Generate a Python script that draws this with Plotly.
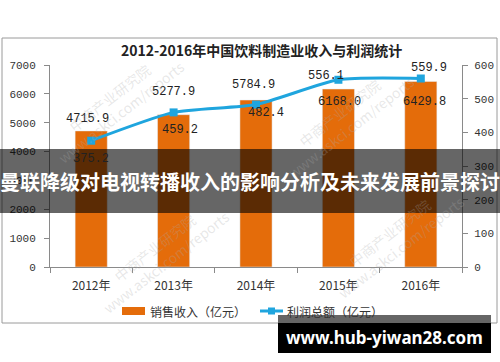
import plotly.graph_objects as go

years = ["2012年", "2013年", "2014年", "2015年", "2016年"]
revenue = [4715.9, 5277.9, 5784.9, 6168.0, 6429.8]
profit = [375.2, 459.2, 482.4, 556.1, 559.9]
title_text = "2012-2016年中国饮料制造业收入与利润统计"
legend_names = ["销售收入（亿元）", "利润总额（亿元）"]
banner_text = "曼联降级对电视转播收入的影响分析及未来发展前景探讨"
site_text = "www.hub-yiwan28.com"

W, H = 500, 362
L, R, T, B = 50, 38, 65, 95
PW, PH = W - L - R, H - T - B


def px(x):
    return (x - L) / PW


def py(y):
    return (H - B - y) / PH


ORANGE = "#e46c0a"
BLUE = "#1fa5de"
MONO = "Liberation Mono, DejaVu Sans Mono, monospace"
CJK = "Noto Sans CJK SC, Noto Sans, sans-serif"

fig = go.Figure()
fig.add_trace(go.Bar(x=years, y=revenue, name=legend_names[0], marker_color=ORANGE,
                     showlegend=False, hoverinfo="skip"))
fig.add_trace(go.Scatter(x=years, y=profit, name=legend_names[1], yaxis="y2",
                         mode="lines+markers", line=dict(color=BLUE, width=3, shape="spline", smoothing=0.6),
                         marker=dict(symbol="square", size=8, color=BLUE),
                         showlegend=False, hoverinfo="skip"))

ann = []


def note(x, y, text, font, xref="paper", yref="paper", **kw):
    d = dict(x=x, y=y, xref=xref, yref=yref, text=text, showarrow=False,
             xanchor="center", yanchor="middle", font=font)
    d.update(kw)
    ann.append(d)


# bar value labels (pixel offsets from bar tops)
bar_shift = [(-4, 12), (0, 23), (-3, 15), (1, -13), (4, -21)]
for xv, v, (dx, dy) in zip(years, revenue, bar_shift):
    note(xv, v, f"{v:.1f}", dict(family=MONO, size=12, color="#222"), xref="x", yref="y",
         xshift=dx, yshift=dy)
# profit labels
prof_shift = [(0, -18), (6, -18), (10, -8), (-12, 4), (8, 11)]
for xv, v, (dx, dy) in zip(years, profit, prof_shift):
    note(xv, v, f"{v:.1f}", dict(family=MONO, size=12, color="#222"), xref="x", yref="y2",
         xshift=dx, yshift=dy)

# faint watermarks
for (wx, wy) in [(115, 105), (345, 120), (395, 240), (160, 255)]:
    note(px(wx), py(wy), "中商产业研究院<br>www.askci.com/reports",
         dict(family=CJK, size=14, color="rgba(170,170,170,0.28)"), textangle=-38)

# title
note(px(261), py(50), "<b>" + title_text + "</b>", dict(family=CJK, size=14, color="#222"))
# legend text
note(px(148), py(311), legend_names[0], dict(family=CJK, size=12, color="#333"), xanchor="left")
note(px(285), py(311), legend_names[1], dict(family=CJK, size=12, color="#333"), xanchor="left")
# banner text
note(px(250), py(181), "<b>" + banner_text + "</b>", dict(family=CJK, size=20, color="white"))
# site text
note(px(384), py(337), "<b>" + site_text + "</b>",
     dict(family="Noto Sans, DejaVu Sans, sans-serif", size=17, color="white"))

shapes = [
    # chart border
    dict(type="rect", xref="paper", yref="paper", x0=px(2), x1=px(497), y0=py(38), y1=py(323),
         line=dict(color="#9a9a9a", width=1), layer="below"),
    # legend symbols
    dict(type="rect", xref="paper", yref="paper", x0=px(122), x1=px(145), y0=py(307), y1=py(315),
         fillcolor=ORANGE, line=dict(width=0)),
    dict(type="line", xref="paper", yref="paper", x0=px(260), x1=px(283), y0=py(311), y1=py(311),
         line=dict(color=BLUE, width=3)),
    dict(type="rect", xref="paper", yref="paper", x0=px(268), x1=px(275), y0=py(307.5), y1=py(314.5),
         fillcolor=BLUE, line=dict(width=0)),
    # banner
    dict(type="rect", xref="paper", yref="paper", x0=px(0), x1=px(500), y0=py(149), y1=py(213),
         fillcolor="rgba(0,0,0,0.6)", line=dict(width=0), layer="above"),
    # site box
    dict(type="rect", xref="paper", yref="paper", x0=px(278), x1=px(491), y0=py(315), y1=py(353),
         fillcolor="#000", line=dict(width=0), layer="above"),
    dict(type="rect", xref="paper", yref="paper", x0=px(278), x1=px(491), y0=py(315), y1=py(323),
         fillcolor="#666", line=dict(width=0), layer="above"),
]

axis_common = dict(showgrid=False, zeroline=False, showline=True, linecolor="#8a8a8a", linewidth=1,
                   ticks="outside", ticklen=5, tickcolor="#8a8a8a",
                   tickfont=dict(family=MONO, size=11, color="#333"))

fig.update_layout(
    width=W, height=H, margin=dict(l=L, r=R, t=T, b=B, autoexpand=False),
    paper_bgcolor="white", plot_bgcolor="white",
    bargap=0.61,
    xaxis=dict(type="category", showgrid=False, showline=True, linecolor="#8a8a8a",
               ticks="outside", ticklen=5, tickcolor="#8a8a8a", tickson="boundaries",
               ticklabelstandoff=8,
               tickfont=dict(family=CJK, size=12, color="#333")),
    yaxis=dict(range=[0, 7000], dtick=1000, ticklabelstandoff=6, **axis_common),
    yaxis2=dict(range=[0, 600], dtick=100, overlaying="y", side="right", ticklabelstandoff=4, **axis_common),
    annotations=ann, shapes=shapes, showlegend=False,
)

fig.write_html("out.html", config={"displayModeBar": False, "staticPlot": True},
               post_script="document.body.style.margin='0';document.body.style.overflow='hidden';")
